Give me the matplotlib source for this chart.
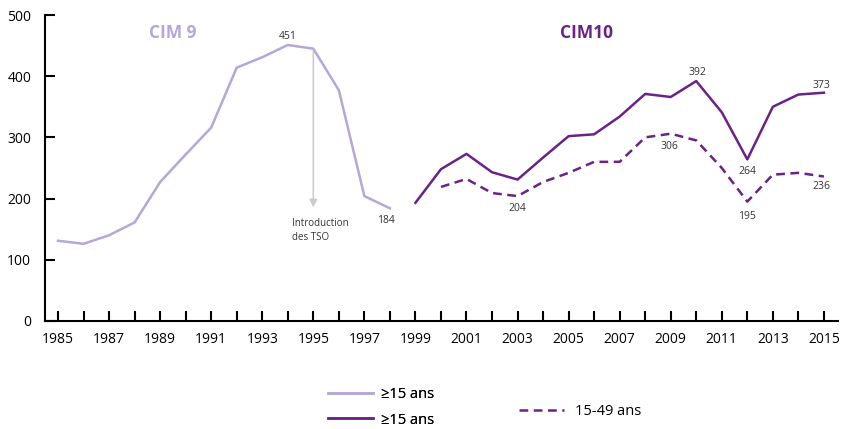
import matplotlib.pyplot as plt
from matplotlib.lines import Line2D

plt.rcParams['font.family'] = ['Open Sans', 'DejaVu Sans']

# CIM 9, >=15 ans
years_cim9 = list(range(1985, 1999))
vals_cim9 = [131, 126, 140, 161, 227, 272, 316, 414, 431, 451, 445, 377, 204, 184]

# CIM10, >=15 ans
years_cim10 = list(range(1999, 2016))
vals_cim10 = [193, 248, 273, 243, 231, 267, 302, 305, 334, 371, 366, 392, 341, 264, 350, 370, 373]

# CIM10, 15-49 ans
years_1549 = list(range(2000, 2016))
vals_1549 = [219, 232, 209, 204, 227, 242, 260, 260, 300, 306, 295, 250, 195, 239, 242, 236]

light = '#b5a7d7'
dark = '#6b2285'
txt = '#333333'
dash = (0, (3.5, 2.2))

fig = plt.figure(figsize=(8.43, 4.29), dpi=100)
ax = fig.add_axes([0.0534, 0.252, 0.9406, 0.713])

ax.plot(years_cim9, vals_cim9, color=light, lw=1.8)
ax.plot(years_cim10, vals_cim10, color=dark, lw=1.8)
ax.plot(years_1549, vals_1549, color=dark, lw=1.8, ls=dash)

ax.set_xlim(1984.49, 2015.55)
ax.set_ylim(0, 500)
ax.set_xticks(range(1985, 2016))
ax.set_xticklabels([str(y) if (y - 1985) % 2 == 0 else '' for y in range(1985, 2016)])
ax.set_yticks(range(0, 501, 100))
ax.tick_params(axis='both', direction='in', length=7, width=1.5, labelsize=10, colors='black', pad=8)
ax.tick_params(axis='y', pad=10)
for s in ['top', 'right']:
    ax.spines[s].set_visible(False)
for s in ['left', 'bottom']:
    ax.spines[s].set_linewidth(1.5)

# arrow for TSO introduction
ax.annotate('', xy=(1995, 181), xytext=(1995, 445),
            arrowprops=dict(arrowstyle='-|>', color='#cccccc', lw=1.2, mutation_scale=11))
ax.text(1994.15, 168, 'Introduction\ndes TSO', fontsize=7, color=txt, ha='left', va='top', linespacing=1.3)

# value labels
labels = [
    (1994, 451, '451', 'bottom', 2, 0),
    (1998, 184, '184', 'top', -5, -3),
    (2003, 204, '204', 'top', -5, 0),
    (2009, 306, '306', 'top', -5, -1),
    (2010, 392, '392', 'bottom', 2, 1),
    (2012, 264, '264', 'top', -5, 0),
    (2012, 195, '195', 'top', -7, 0),
    (2015, 373, '373', 'bottom', 1, -2),
    (2015, 236, '236', 'top', -3, -2),
]
for x, y, t, va, dy, dx in labels:
    ax.annotate(t, (x, y), xytext=(dx, dy), textcoords='offset points',
                ha='center', va=va, fontsize=7.5, color=txt)

ax.text(1989.5, 470, 'CIM 9', color=light, fontsize=12.5, fontweight='bold', ha='center', va='center')
ax.text(2005.7, 470, 'CIM10', color=dark, fontsize=12.5, fontweight='bold', ha='center', va='center')

h1 = [Line2D([], [], color=light, lw=1.8), Line2D([], [], color=dark, lw=1.8)]
leg1 = fig.legend(h1, ['\u226515 ans', '\u226515 ans'], loc='upper left',
                  bbox_to_anchor=(0.389, 0.097), frameon=False, fontsize=10.5,
                  handlelength=3.1, handletextpad=0.55, labelspacing=0.7,
                  borderaxespad=0, borderpad=0)
fig.add_artist(leg1)
h2 = [Line2D([], [], color=dark, lw=1.8, ls=dash)]
fig.legend(h2, ['15-49 ans'], loc='upper left', bbox_to_anchor=(0.6157, 0.058),
           frameon=False, fontsize=10.5, handlelength=3.1, handletextpad=0.75,
           borderaxespad=0, borderpad=0)

fig.savefig('out.png', dpi=100)
